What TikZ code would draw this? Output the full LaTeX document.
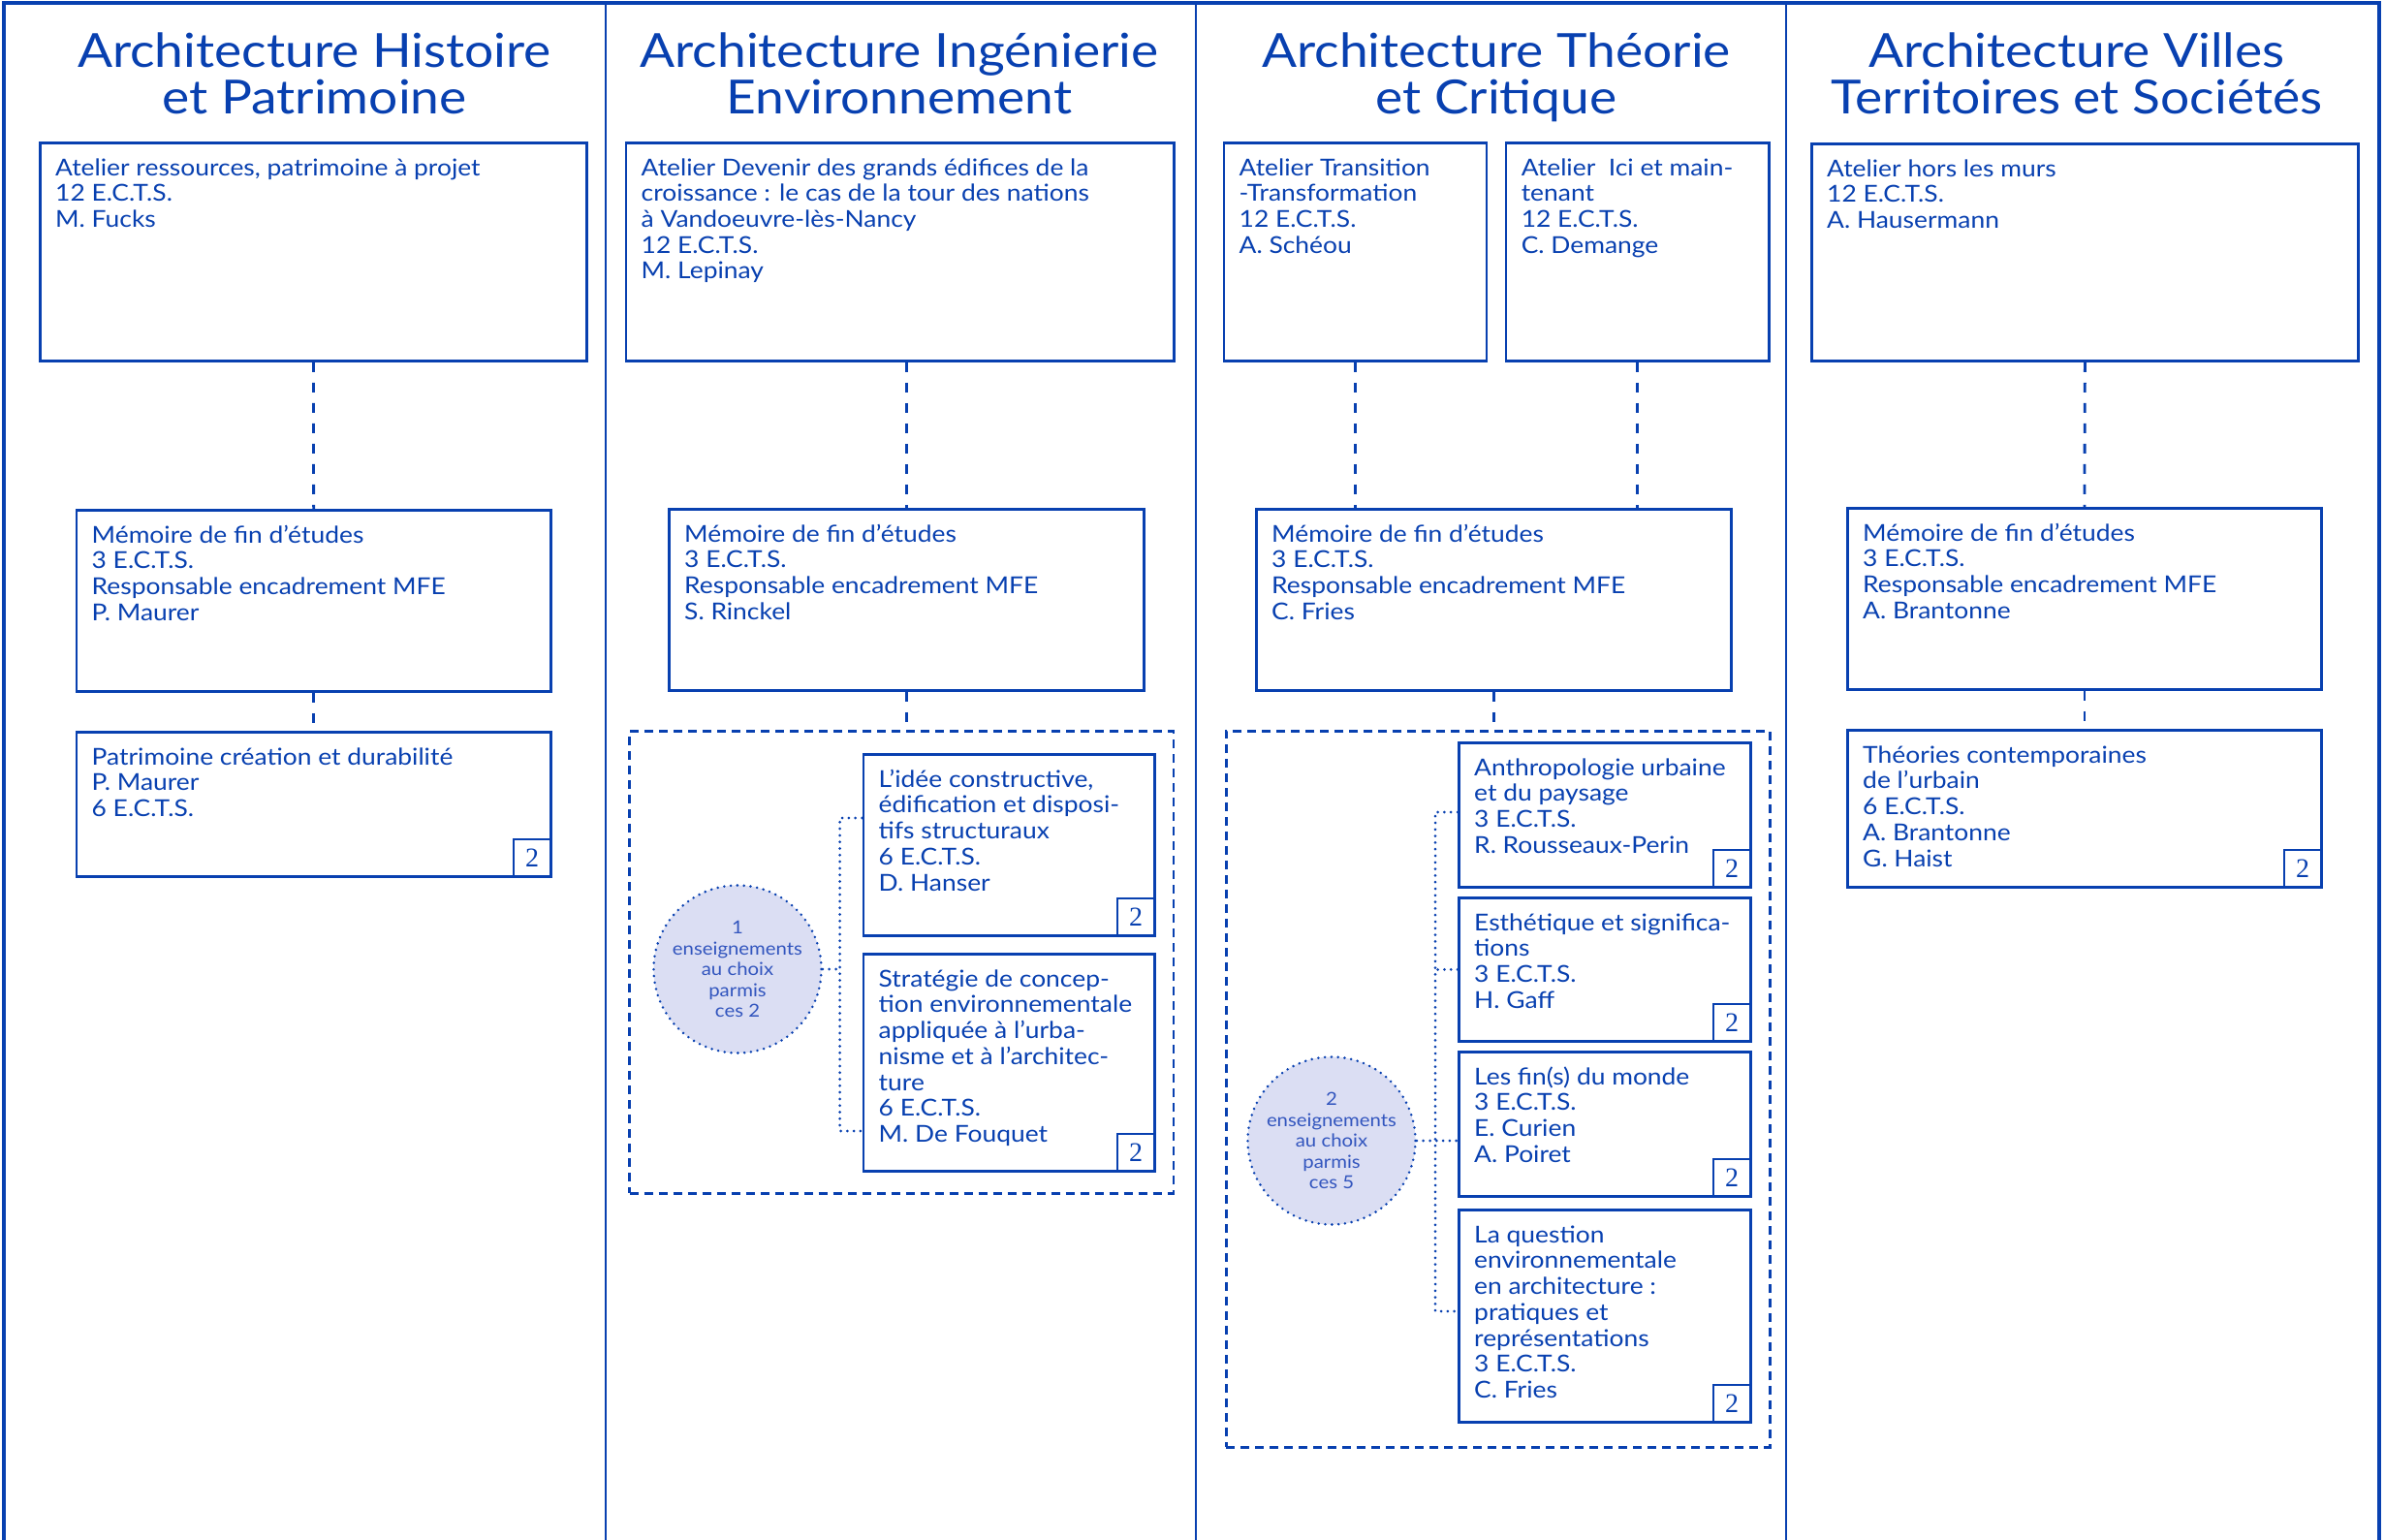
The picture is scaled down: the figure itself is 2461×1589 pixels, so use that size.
\documentclass[tikz,border=0pt]{standalone}
\usepackage{fontspec}
\setmainfont[FakeStretch=1.1]{Lato}
\newfontfamily\digitfont{Liberation Serif}
\definecolor{bleu}{RGB}{8,64,176}
\definecolor{lav}{RGB}{219,222,243}
\definecolor{bleuc}{RGB}{50,85,190}
\tikzset{
 box/.style={draw=bleu, line width=2.8pt, rectangle, inner sep=0pt},
 txt/.style={text=bleu, inner sep=0pt, align=left, font=\fontsize{24}{26.7}\selectfont},
 ttl/.style={text=bleu, inner sep=0pt, align=center, font=\fontsize{48.5}{48}\selectfont},
 num/.style={draw=bleu, line width=2.8pt, fill=white, minimum size=38.5pt, inner sep=0pt, text=bleu, font=\digitfont\fontsize{28}{28}\selectfont},
 conn/.style={draw=bleu, line width=2.8pt, dash pattern=on 10pt off 11pt},
 grp/.style={draw=bleu, line width=2.6pt, dash pattern=on 9pt off 6pt, rectangle, inner sep=0pt},
 dotl/.style={draw=bleu, line width=3pt, line cap=round, dash pattern=on 0pt off 6.8pt},
 circ/.style={circle, fill=lav, draw=bleu, line width=2.8pt, line cap=round, dash pattern=on 0pt off 6.8pt, minimum size=173pt, inner sep=0pt, align=center, text=bleuc, font=\fontsize{18.5}{21.5}\selectfont},
 frm/.style={draw=bleu, line width=2.8pt},
}
\newcommand\mkbox[6]{%
 \node[box, anchor=north west, minimum width={#4-#2}, minimum height={#5-#3}] (#1) at (#2,#3) {};
 \node[txt, anchor=north west] (#1t) at ([xshift=17pt,yshift=-11pt]#1.north west) {\rule{0pt}{24pt}#6};
}
\newcommand\mknum[1]{\node[num, anchor=south east] (#1n) at (#1.south east) {2};}
\begin{document}
\begin{tikzpicture}[x=1pt,y=-1pt]
\useasboundingbox (0,0) rectangle (2461,1589);
% frame
\draw[frm, line width=4pt] (3.5,1589) -- (3.5,3) -- (2455,3) -- (2455,1589);
\draw[frm] (625,3) -- (625,1589);
\draw[frm] (1234,3) -- (1234,1589);
\draw[frm] (1843,3) -- (1843,1589);
% titles
\node[ttl, anchor=north] (t1) at (324.5,19) {\rule{0pt}{50pt}Architecture Histoire\\et Patrimoine};
\node[ttl, anchor=north] (t2) at (928,19) {\rule{0pt}{50pt}Architecture Ingénierie\\Environnement};
\node[ttl, anchor=north] (t3) at (1544,19) {\rule{0pt}{50pt}Architecture Théorie\\et Critique};
\node[ttl, anchor=north] (t4) at (2143,19) {\rule{0pt}{50pt}Architecture Villes\\Territoires et Sociétés};
% column 1
\mkbox{a1}{40}{146}{604}{371}{Atelier ressources, patrimoine à projet\\12 E.C.T.S.\\M. Fucks}
\mkbox{m1}{77.5}{525}{567}{712}{Mémoire de fin d’études\\3 E.C.T.S.\\Responsable encadrement MFE\\P. Maurer}
\mkbox{p1}{77.5}{754}{567}{903}{Patrimoine création et durabilité\\P. Maurer\\6 E.C.T.S.}
\mknum{p1}
\draw[conn] (a1.south) -- (m1.north);
\draw[conn] (m1.south) -- (p1.north);
% column 2
\mkbox{a2}{644.5}{146}{1210}{371}{Atelier Devenir des grands édifices de la\\croissance : le cas de la tour des nations\\à Vandoeuvre-lès-Nancy\\12 E.C.T.S.\\M. Lepinay}
\mkbox{m2}{689}{524}{1179}{711}{Mémoire de fin d’études\\3 E.C.T.S.\\Responsable encadrement MFE\\S. Rinckel}
\node[grp, anchor=north west, minimum width=561.1, minimum height=477] (g2) at (648.4,753) {};
\mkbox{idee}{889.5}{777}{1190}{964}{L’idée constructive,\\édification et disposi-\\tifs structuraux\\6 E.C.T.S.\\D. Hanser}
\mknum{idee}
\mkbox{strat}{889.5}{983}{1190}{1207}{Stratégie de concep-\\tion environnementale\\appliquée à l’urba-\\nisme et à l’architec-\\ture\\6 E.C.T.S.\\M. De Fouquet}
\mknum{strat}
\node[circ] (c1) at (761,1000) {1\\enseignements\\au choix\\parmis\\ces 2};
\draw[conn] (m2.north |- a2.south) -- (m2.north);
\draw[conn] (m2.south) -- (m2.south |- g2.north);
\coordinate (v1t) at (866.6,844);
\coordinate (v1b) at (866.6,1167);
\draw[dotl] (idee.west |- v1t) -- (v1t) -- (v1b) -- (strat.west |- v1b);
\draw[dotl] (c1.east) -- (c1.east -| v1t);
% column 3
\mkbox{a3a}{1261.5}{146}{1532.6}{371}{Atelier Transition\\-Transformation\\12 E.C.T.S.\\A. Schéou}
\mkbox{a3b}{1552.6}{146}{1823.7}{371}{Atelier\ \ Ici et main-\\tenant\\12 E.C.T.S.\\C. Demange}
\mkbox{m3}{1295}{524}{1785}{711}{Mémoire de fin d’études\\3 E.C.T.S.\\Responsable encadrement MFE\\C. Fries}
\node[grp, anchor=north west, minimum width=561, minimum height=739] (g3) at (1264,753) {};
\mkbox{anth}{1504}{765}{1805}{914}{Anthropologie urbaine\\et du paysage\\3 E.C.T.S.\\R. Rousseaux-Perin}
\mknum{anth}
\mkbox{esth}{1504}{925}{1805}{1073}{Esthétique et significa-\\tions\\3 E.C.T.S.\\H. Gaff}
\mknum{esth}
\mkbox{fins}{1504}{1084}{1805}{1233}{Les fin(s) du monde\\3 E.C.T.S.\\E. Curien\\A. Poiret}
\mknum{fins}
\mkbox{quest}{1504}{1247}{1805}{1466}{La question\\environnementale\\en architecture :\\pratiques et\\représentations\\3 E.C.T.S.\\C. Fries}
\mknum{quest}
\node[circ] (c2) at (1374,1177) {2\\enseignements\\au choix\\parmis\\ces 5};
\draw[conn] (a3a.south) -- (a3a.south |- m3.north);
\draw[conn] (a3b.south) -- (a3b.south |- m3.north);
\draw[conn] (m3.south) -- (m3.south |- g3.north);
\coordinate (v2t) at (1481,838);
\coordinate (v2b) at (1481,1353);
\draw[dotl] (anth.west |- v2t) -- (v2t) -- (v2b) -- (quest.west |- v2b);
\draw[dotl] (esth.west) -- (esth.west -| v2t);
\draw[dotl] (c2.east) -- (c2.east -| fins.west);
% column 4
\mkbox{a4}{1868}{147}{2432}{371}{Atelier hors les murs\\12 E.C.T.S.\\A. Hausermann}
\mkbox{m4}{1905}{523}{2394}{710}{Mémoire de fin d’études\\3 E.C.T.S.\\Responsable encadrement MFE\\A. Brantonne}
\mkbox{th4}{1905}{752}{2394}{914}{Théories contemporaines\\de l’urbain\\6 E.C.T.S.\\A. Brantonne\\G. Haist}
\mknum{th4}
\draw[conn] (a4.south) -- (m4.north);
\draw[conn] (m4.south) -- (th4.north);
\end{tikzpicture}
\end{document}
